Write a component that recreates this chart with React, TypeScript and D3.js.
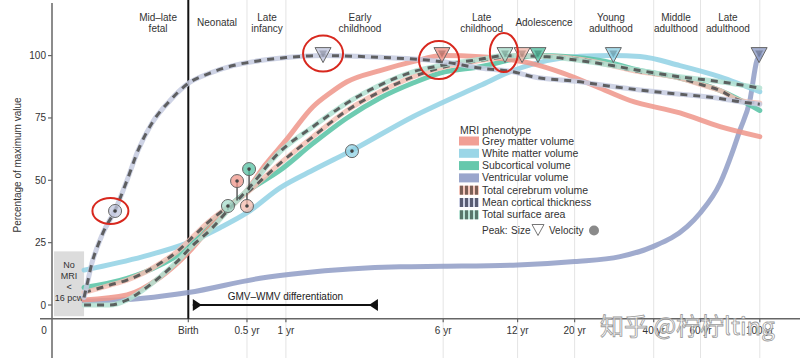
import React from 'react';
import * as d3 from 'd3';

const W = 800;
const H = 358;
const FONT = "'Liberation Sans', Arial, Helvetica, sans-serif";

// ---------- axis / labels (ages in post-conception years; birth = 0.77) ----------
const TICK_T = [0.225, 0.77, 1.27, 1.77, 6.77, 12.77, 20.77, 40.77, 60.77, 100.77];
const TICK_LABELS = ['0', 'Birth', '0.5 yr', '1 yr', '6 yr', '12 yr', '20 yr', '40 yr', '60 yr', '100 yr'];
const GRID_T = [1.27, 1.77, 6.77, 12.77, 20.77, 40.77, 60.77, 100.77];
const Y_TICKS = [0, 25, 50, 75, 100];
const PERIOD_LABELS = [['Mid–late', 'fetal'], ['Neonatal'], ['Late', 'infancy'], ['Early', 'childhood'], ['Late', 'childhood'], ['Adolescence'], ['Young', 'adulthood'], ['Middle', 'adulthood'], ['Late', 'adulthood']];
const PERIOD_T = [0.595, 0.984, 1.507, 3.33, 9.4, 16.0, 28.3, 49.3, 76.8];

// ---------- series ----------
const GMV_T = [0.3165, 0.4566, 0.605, 0.77, 0.927, 1.10, 1.27, 1.48, 1.77, 2.23, 2.58, 2.98, 3.95, 5.23, 6.77, 9.27, 14.2, 18.8, 25.1, 33.3, 51, 71.8, 100.77];
const GMV_V = [2, 4, 11, 21, 31, 39, 46, 56, 66, 79.5, 85, 89.5, 94, 97.6, 100, 99.5, 97, 93, 87.5, 82, 77, 71.5, 67.5];

const WMV_T = [0.3165, 0.5234, 0.77, 1.009, 1.271, 1.684, 2.27, 3.11, 5.23, 9.27, 12.3, 16.4, 21.75, 28.6, 36.3, 51, 71.8, 100.77];
const WMV_V = [14, 19.4, 25, 31, 37, 47, 54.5, 62, 75.5, 88, 94, 98, 99.7, 100, 99.6, 96, 91.5, 85.5];

const SGMV_T = [0.3165, 0.4566, 0.605, 0.7616, 0.9036, 1.293, 1.684, 2.23, 2.98, 3.95, 5.23, 6.59, 9.27, 15.2, 25.8, 36.3, 51, 71.8, 100.77];
const SGMV_V = [7, 10.7, 16, 22.7, 31.4, 46, 54, 64.8, 75, 83, 89, 93, 95.5, 100, 98, 94, 91, 86, 78];

const VENT_T = [0.3165, 0.5234, 0.77, 1.42, 1.997, 4.69, 6.77, 12.77, 20.77, 30.6, 40.5, 54.2, 60.5, 71.8, 80.2, 85, 92.6, 98.3, 100.77];
const VENT_V = [1.5, 2.7, 5, 10.7, 12.7, 15.3, 15.5, 16, 17.4, 19.4, 23.4, 31.4, 36.8, 48.8, 62, 70, 82, 98, 100];

const TCV_T = [0.3165, 0.3951, 0.4566, 0.5234, 0.605, 0.6996, 0.8017, 0.9036, 1.27, 1.684, 2.23, 2.98, 3.95, 5.23, 6.59, 9.27, 13.27, 21.75, 36.3, 51, 60.5, 71.8, 85, 100.77];
const TCV_V = [5, 8, 10, 12.7, 16.7, 21.4, 27.4, 32.8, 45, 56.8, 67.5, 78, 85.5, 91.5, 95, 98, 100, 98.5, 93.5, 91, 88.5, 86, 82, 81];

const CT_T = [0.3165, 0.3274, 0.3388, 0.3536, 0.3722, 0.4123, 0.4566, 0.5017, 0.5652, 0.6591, 0.7616, 0.9269, 1.128, 1.42, 1.775, 2.43, 3.95, 6.77, 9.27, 12.3, 14.57, 21.75, 25.8, 36.3, 45.7, 71.8, 85, 100.77];
const CT_V = [3, 10, 17, 23, 29, 38, 50, 62, 73, 82, 88.5, 93, 96, 98, 99.2, 100, 99.3, 97.5, 95, 93.5, 91.5, 89.5, 88.3, 86.2, 85, 82.8, 81.5, 80.5];

const TSA_T = [0.3165, 0.3951, 0.4566, 0.5234, 0.605, 0.6996, 0.8017, 0.9269, 1.0807, 1.27, 1.684, 2.23, 2.98, 3.95, 5.23, 6.59, 9.27, 11.47, 16.4, 21.75, 28.6, 36.3, 51, 71.8, 100.77];
const TSA_V = [0, 0, 2, 6, 11.3, 17.4, 24, 30, 38, 46, 61.5, 71.5, 81, 88.2, 93.5, 96, 98.5, 100, 99.5, 98, 96, 94, 91.5, 89.5, 87];

// peak ages (size) and velocity peaks [age, value]
const PEAK_SIZE_T = { gmv: 6.7, wmv: 28.9, sgmv: 15.2, vent: 100.2, tcv: 13.27, ct: 2.43, tsa: 11.47 };
const PEAK_VEL = { ct: [0.4123, 37.7], tsa: [1.08, 39.7], gmv: [1.167, 49.7], tcv: [1.27, 39.7], sgmv: [1.293, 54.5], wmv: [3.11, 61.7] };

// red annotation ellipses [age, value, rx, ry]
const ANNOTATIONS = [[0.3963, 37.7, 18, 13], [2.43, 100.8, 20, 18], [6.53, 98.2, 20, 19], [11.36, 101.2, 14, 19.5]];

// GMV–WMV differentiation bracket (ages)
const DIFF_RANGE = [0.80, 3.88];
const NO_MRI_RANGE = [0.245, 0.3165];

const SERIES = [
  { key: 'vent', name: 'Ventricular volume', t: VENT_T, v: VENT_V, color: '#8f9cc6', bg: '#8f9cc6', dashed: false },
  { key: 'wmv', name: 'White matter volume', t: WMV_T, v: WMV_V, color: '#90d1e4', bg: '#90d1e4', dashed: false },
  { key: 'sgmv', name: 'Subcortical volume', t: SGMV_T, v: SGMV_V, color: '#55c2a3', bg: '#55c2a3', dashed: false },
  { key: 'gmv', name: 'Grey matter volume', t: GMV_T, v: GMV_V, color: '#ef958a', bg: '#ef958a', dashed: false },
  { key: 'tcv', name: 'Total cerebrum volume', t: TCV_T, v: TCV_V, color: '#f3b9ac', bg: '#f3c0b4', dashed: true, stripe: '#6e544c' },
  { key: 'tsa', name: 'Total surface area', t: TSA_T, v: TSA_V, color: '#a6dccb', bg: '#b2e0d1', dashed: true, stripe: '#4e6a5f' },
  { key: 'ct', name: 'Mean cortical thickness', t: CT_T, v: CT_V, color: '#c2c7de', bg: '#c6cbe0', dashed: true, stripe: '#4b4f66' },
];
const LEGEND_ORDER = ['gmv', 'wmv', 'sgmv', 'vent', 'tcv', 'ct', 'tsa'];

const x = d3.scaleLog().domain([0.77, 100.77]).range([188.3, 759.8]);
const y = d3.scaleLinear().domain([0, 100]).range([305, 55.6]);
const AXIS_Y = 318.7;
const Y_AXIS_X = 52;

function valueAt(ts: number[], vs: number[], t: number) {
  for (let i = 0; i < ts.length - 1; i++) {
    if (t >= ts[i] && t <= ts[i + 1]) {
      const f = (Math.log(t) - Math.log(ts[i])) / (Math.log(ts[i + 1]) - Math.log(ts[i]));
      return vs[i] + f * (vs[i + 1] - vs[i]);
    }
  }
  return vs[vs.length - 1];
}

const lineGen = d3.line<[number, number]>().x(d => x(d[0])).y(d => y(d[1])).curve(d3.curveMonotoneX);

function tri(cx: number, cy: number, hw: number, h: number) {
  return `M${cx - hw},${cy - h / 2} L${cx + hw},${cy - h / 2} L${cx},${cy + h / 2} Z`;
}

export default function App() {
  const byKey: Record<string, any> = {};
  SERIES.forEach(s => (byKey[s.key] = s));
  const peakY = y(100) - 0.5;

  return (
    <svg width={W} height={H} style={{ position: 'absolute', left: 0, top: 0, background: '#fff' }} fontFamily={FONT}>
      <rect x={0} y={0} width={W} height={H} fill="#fff" />
      {/* grid */}
      {GRID_T.map((t, i) => (
        <line key={'g' + i} x1={x(t)} x2={x(t)} y1={0} y2={H} stroke="#e4e4e4" strokeWidth={1} />
      ))}
      {/* no MRI box */}
      <rect x={x(NO_MRI_RANGE[0])} y={y(21.5)} width={x(NO_MRI_RANGE[1]) - x(NO_MRI_RANGE[0])} height={y(-4.5) - y(21.5)} fill="#dcdcdc" />
      {['No', 'MRI', '<', '16 pcw'].map((s, i) => (
        <text key={'nm' + i} x={(x(NO_MRI_RANGE[0]) + x(NO_MRI_RANGE[1])) / 2} y={268 + i * 11} fontSize={9} textAnchor="middle" fill="#333">{s}</text>
      ))}
      {/* axes */}
      <line x1={Y_AXIS_X} x2={Y_AXIS_X} y1={3} y2={H} stroke="#666" strokeWidth={1.5} />
      <line x1={40} x2={W} y1={AXIS_Y} y2={AXIS_Y} stroke="#666" strokeWidth={1.5} />
      {Y_TICKS.map(v => (
        <g key={'yt' + v}>
          <line x1={Y_AXIS_X - 4} x2={Y_AXIS_X} y1={y(v)} y2={y(v)} stroke="#666" strokeWidth={1.2} />
          <text x={Y_AXIS_X - 6} y={y(v) + 3.5} fontSize={10} textAnchor="end" fill="#333">{v}</text>
        </g>
      ))}
      {TICK_T.map((t, i) => (
        <g key={'xt' + i}>
          {i > 0 && <line x1={x(t)} x2={x(t)} y1={AXIS_Y} y2={AXIS_Y + 3.5} stroke="#666" strokeWidth={1.2} />}
          <text x={x(t)} y={AXIS_Y + 15.5} fontSize={10} textAnchor="middle" fill="#333">{TICK_LABELS[i]}</text>
        </g>
      ))}
      <text transform={`translate(21,165) rotate(-90)`} fontSize={10} textAnchor="middle" fill="#333">Percentage of maximum value</text>
      {/* birth line */}
      <line x1={x(0.77)} x2={x(0.77)} y1={0} y2={AXIS_Y} stroke="#111" strokeWidth={2} />
      {/* period labels */}
      {PERIOD_LABELS.map((lines, i) => (
        <text key={'p' + i} x={x(PERIOD_T[i])} fontSize={10} textAnchor="middle" fill="#333">
          {lines.length === 1 ? (
            <tspan x={x(PERIOD_T[i])} y={26}>{lines[0]}</tspan>
          ) : (
            lines.map((l, j) => <tspan key={j} x={x(PERIOD_T[i])} y={20.5 + j * 11.5}>{l}</tspan>)
          )}
        </text>
      ))}
      {/* GMV–WMV differentiation */}
      <line x1={x(DIFF_RANGE[0])} x2={x(DIFF_RANGE[1])} y1={y(0)} y2={y(0)} stroke="#111" strokeWidth={2} />
      <path d={`M${x(DIFF_RANGE[0])},${y(0) - 6} L${x(DIFF_RANGE[0]) + 9},${y(0)} L${x(DIFF_RANGE[0])},${y(0) + 6} Z`} fill="#111" />
      <path d={`M${x(DIFF_RANGE[1])},${y(0) - 6} L${x(DIFF_RANGE[1]) - 9},${y(0)} L${x(DIFF_RANGE[1])},${y(0) + 6} Z`} fill="#111" />
      <text x={(x(DIFF_RANGE[0]) + x(DIFF_RANGE[1])) / 2} y={y(0) - 5} fontSize={10} textAnchor="middle" fill="#222">GMV–WMV differentiation</text>
      {/* curves */}
      {SERIES.map(s => {
        const d = lineGen(s.t.map((t: number, i: number) => [t, s.v[i]] as [number, number])) || '';
        return (
          <g key={s.key}>
            <path d={d} fill="none" stroke={s.bg} strokeWidth={5} strokeOpacity={0.85} strokeLinecap="round" />
            {s.dashed && <path d={d} fill="none" stroke="#4a4a4a" strokeOpacity={0.85} strokeWidth={3} strokeDasharray="7,6" />}
          </g>
        );
      })}
      {/* velocity peaks */}
      {Object.entries(PEAK_VEL).map(([k, p]) => {
        const s = byKey[k];
        const cx = x(p[0]);
        const cy = y(p[1]);
        const cyCurve = y(valueAt(s.t, s.v, p[0]));
        return (
          <g key={'v' + k}>
            {Math.abs(cyCurve - cy) > 2 && <line x1={cx} x2={cx} y1={cy} y2={cyCurve} stroke="#333" strokeWidth={1.2} />}
            <circle cx={cx} cy={cy} r={6.5} fill={s.color} fillOpacity={0.75} stroke="#666" strokeWidth={1} />
            <circle cx={cx} cy={cy} r={1.8} fill="#444" />
          </g>
        );
      })}
      {/* size peaks */}
      {Object.entries(PEAK_SIZE_T).map(([k, t]) => {
        const s = byKey[k];
        const cx = x(t);
        const dark = d3.color(s.color)!.darker(1.2).toString();
        return (
          <g key={'pk' + k}>
            <path d={tri(cx, peakY, 8, 15)} fill={s.color} fillOpacity={0.8} stroke="#666" strokeWidth={1} />
            <path d={tri(cx, peakY - 1, 4, 7)} fill={dark} fillOpacity={0.55} />
          </g>
        );
      })}
      {/* legend */}
      <text x={460} y={133.5} fontSize={10.5} fill="#333">MRI phenotype</text>
      {LEGEND_ORDER.map((k, i) => {
        const s = byKey[k];
        const cy = 141 + i * 12.3;
        return (
          <g key={'lg' + k}>
            <rect x={459} y={cy - 4.5} width={20} height={9} fill={s.bg} fillOpacity={0.9} />
            {s.dashed && [0, 1, 2, 3].map(j => (
              <rect key={j} x={460 + j * 5} y={cy - 4.5} width={3} height={9} fill={s.stripe} fillOpacity={0.9} />
            ))}
            <text x={482} y={cy + 3.5} fontSize={10.5} fill="#333">{s.name}</text>
          </g>
        );
      })}
      <text x={482} y={234} fontSize={10} fill="#333">Peak:</text>
      <text x={511} y={234} fontSize={10} fill="#333">Size</text>
      <path d={tri(538, 230, 6, 11)} fill="#fff" stroke="#777" strokeWidth={1} />
      <text x={549} y={234} fontSize={10} fill="#333">Velocity</text>
      <circle cx={594} cy={230.5} r={5} fill="#8a8a8a" />
      {/* annotations */}
      {ANNOTATIONS.map((a, i) => (
        <ellipse key={'an' + i} cx={x(a[0])} cy={y(a[1])} rx={a[2]} ry={a[3]} fill="none" stroke="#d8281e" strokeWidth={2} />
      ))}
      {/* watermark */}
      <text x={600} y={335} fontSize={24} fill="#ffffff" fillOpacity={0.7} stroke="#9a9a9a" strokeWidth={0.8} fontFamily="'Noto Sans CJK SC', sans-serif">知乎 @柠柠lting</text>
    </svg>
  );
}
